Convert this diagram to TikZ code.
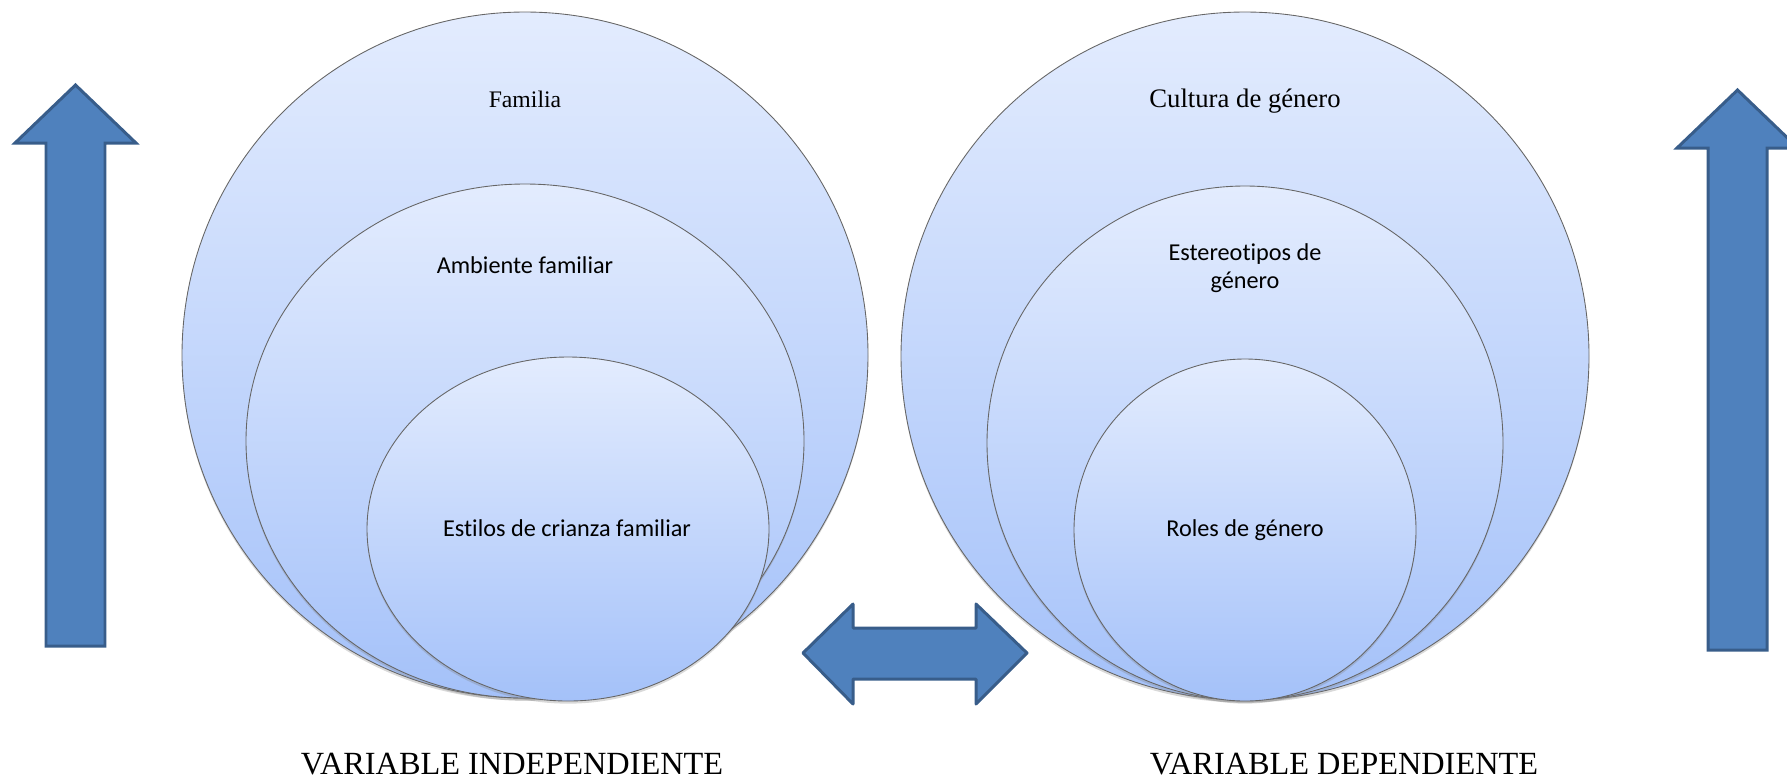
\documentclass[tikz,border=0pt]{standalone}
\usepackage{fontspec}
\setmainfont{Liberation Serif}
\newfontfamily\calib[Ligatures=NoCommon]{Carlito}
\usetikzlibrary{shadows}
\definecolor{bubtop}{HTML}{E3ECFE}
\definecolor{bubbot}{HTML}{A4C1F9}
\definecolor{arrfill}{HTML}{4F81BD}
\definecolor{arrline}{HTML}{385D8A}
\tikzset{
  bubble/.style={draw=black!60,line width=.5pt,top color=bubtop,bottom color=bubbot,
    drop shadow={shadow xshift=0pt,shadow yshift=-1.5pt,opacity=.3}},
  blockarrow/.style={fill=arrfill,draw=arrline,line width=1.7pt},
  serlabel/.style={font=\fontsize{14}{16}\selectfont,anchor=base},
  callabel/.style={font=\calib\fontsize{13.8}{15.5}\selectfont,anchor=base,align=center},
  varlabel/.style={font=\fontsize{18.4}{21}\selectfont,anchor=base}
}
\begin{document}
\begin{tikzpicture}[x=0.02cm,y=-0.02cm]
\useasboundingbox (0,0) rectangle (1787,779);
% up arrows
\draw[blockarrow] (46,646) -- (46,143) -- (15,143) -- (75.5,85) -- (136,143) -- (105,143) -- (105,646) -- cycle;
\draw[blockarrow] (1708,650) -- (1708,148) -- (1677,148) -- (1737.5,90) -- (1798,148) -- (1767,148) -- (1767,650) -- cycle;
% left side
\path[bubble] (525,355) ellipse [x radius=343,y radius=343];
\path[bubble] (525,441) ellipse [x radius=279,y radius=257];
\path[bubble] (568,529) ellipse [x radius=201,y radius=172];
% right side
\path[bubble] (1245,356) ellipse [x radius=344,y radius=344];
\path[bubble] (1245,443) ellipse [x radius=258,y radius=257];
\path[bubble] (1245,530) ellipse [x radius=171,y radius=171];
% double arrow
\draw[blockarrow,line join=round] (803,653) -- (853,604) -- (853,628) -- (976,628) -- (976,604) -- (1027,653) -- (976,704) -- (976,679) -- (853,679) -- (853,704) -- cycle;
% texts
\draw (525,107) node[serlabel,font=\fontsize{13.5}{16}\selectfont] (fam) {Familia};
\draw (525,273) node[callabel] (amb) {Ambiente familiar};
\draw (567,536) node[callabel] (est) {Estilos de crianza familiar};
\draw (1245,107) node[serlabel,font=\fontsize{15.2}{17}\selectfont] (cul) {Cultura de género};
\draw (1245,288) node[callabel] (ste) {Estereotipos de\\género};
\draw (1245,536) node[callabel] (rol) {Roles de género};
\draw (512,774) node[varlabel] (vi) {VARIABLE INDEPENDIENTE};
\draw (1344,774) node[varlabel] (vd) {VARIABLE DEPENDIENTE};
\end{tikzpicture}
\end{document}
